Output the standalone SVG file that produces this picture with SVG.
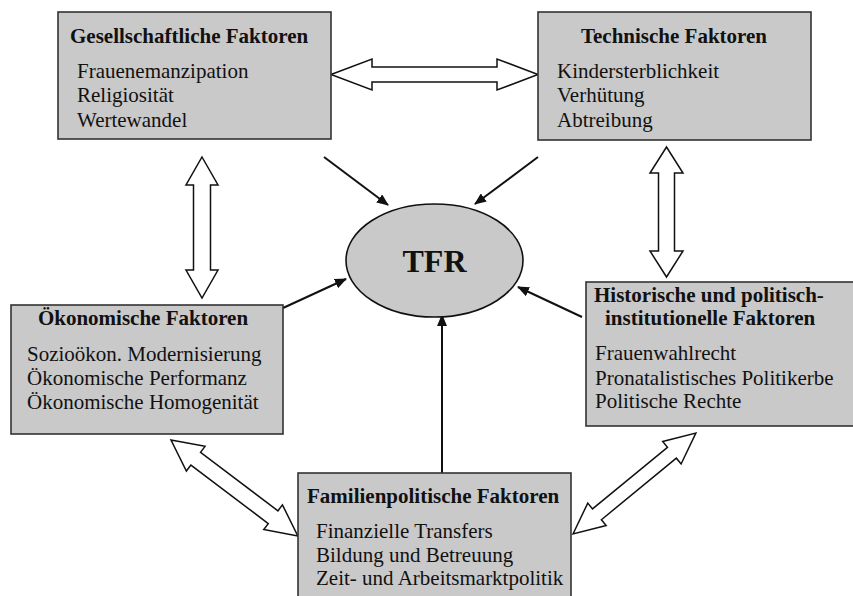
<svg xmlns="http://www.w3.org/2000/svg" width="853" height="596" viewBox="0 0 853 596">
<style>
.box{fill:#c9c9c9;stroke:#333;stroke-width:1.6}
.t{font-family:"Liberation Serif","Times New Roman",serif;font-size:21px;fill:#111}
.b{font-weight:bold}
.dbl{fill:#fff;stroke:#111;stroke-width:1.5;stroke-linejoin:miter}
.ar{stroke:#111;stroke-width:2;fill:none}
</style>
<defs>
<marker id="ah" viewBox="0 0 12 10" refX="11" refY="5" markerWidth="12" markerHeight="10" markerUnits="userSpaceOnUse" orient="auto">
<path d="M0,0 L12,5 L0,10 z" fill="#111"/>
</marker>
</defs>
<rect width="853" height="596" fill="#fff"/>
<g id="connectors">
<polygon class="dbl" transform="translate(331,74.5)" points="0,0 41,-15.5 41,-7.5 166,-7.5 166,-15.5 207,0 166,15.5 166,7.5 41,7.5 41,15.5"/>
<polygon class="dbl" transform="translate(202,157) rotate(90)" points="0,0 28,-16 28,-8.5 113,-8.5 113,-16 141,0 113,16 113,8.5 28,8.5 28,16"/>
<polygon class="dbl" transform="translate(666.5,147) rotate(90)" points="0,0 26,-16.5 26,-8 104,-8 104,-16.5 130,0 104,16.5 104,8 26,8 26,16.5"/>
<polygon class="dbl" transform="translate(171,440) rotate(37.1)" points="0,0 31,-15.5 31,-8 128,-8 128,-15.5 159,0 128,15.5 128,8 31,8 31,15.5"/>
<polygon class="dbl" transform="translate(573,534) rotate(-39.4)" points="0,0 31,-14.5 31,-7 128,-7 128,-14.5 159,0 128,14.5 128,7 31,7 31,14.5"/>
<line class="ar" x1="324" y1="157" x2="388" y2="205" marker-end="url(#ah)"/>
<line class="ar" x1="538" y1="157" x2="475" y2="204" marker-end="url(#ah)"/>
<line class="ar" x1="283" y1="308" x2="346" y2="279" marker-end="url(#ah)"/>
<line class="ar" x1="582" y1="317" x2="518" y2="287" marker-end="url(#ah)"/>
<line class="ar" x1="442" y1="473" x2="442" y2="315" marker-end="url(#ah)"/>
</g>
<g id="tfr">
<ellipse cx="434.5" cy="260.5" rx="88.5" ry="56.5" fill="#c9c9c9" stroke="#111" stroke-width="1.6"/>
<text class="t b" x="434.5" y="272" text-anchor="middle" style="font-size:32px">TFR</text>
</g>
<g id="gesellschaftlich">
<rect class="box" x="58" y="12" width="273" height="127"/>
<text class="t b" x="70" y="43">Gesellschaftliche Faktoren</text>
<text class="t" x="77" y="78">Frauenemanzipation</text>
<text class="t" x="77" y="102">Religiosität</text>
<text class="t" x="77" y="127">Wertewandel</text>
</g>
<g id="technisch">
<rect class="box" x="538" y="12" width="273" height="128"/>
<text class="t b" x="674" y="43" text-anchor="middle">Technische Faktoren</text>
<text class="t" x="557" y="78">Kindersterblichkeit</text>
<text class="t" x="557" y="102">Verhütung</text>
<text class="t" x="557" y="127">Abtreibung</text>
</g>
<g id="oekonomisch">
<rect class="box" x="11" y="305" width="272" height="129"/>
<text class="t b" x="143" y="325" text-anchor="middle">Ökonomische Faktoren</text>
<text class="t" x="27" y="361">Sozioökon. Modernisierung</text>
<text class="t" x="27" y="385">Ökonomische Performanz</text>
<text class="t" x="27" y="409">Ökonomische Homogenität</text>
</g>
<g id="historisch">
<rect class="box" x="586" y="282" width="270" height="144"/>
<text class="t b" x="594" y="302">Historische und politisch-</text>
<text class="t b" x="605" y="325">institutionelle Faktoren</text>
<text class="t" x="595" y="360">Frauenwahlrecht</text>
<text class="t" x="595" y="385">Pronatalistisches Politikerbe</text>
<text class="t" x="595" y="408">Politische Rechte</text>
</g>
<g id="familienpolitisch">
<rect class="box" x="298" y="473" width="273" height="130"/>
<text class="t b" x="307" y="503">Familienpolitische Faktoren</text>
<text class="t" x="316" y="538">Finanzielle Transfers</text>
<text class="t" x="316" y="562">Bildung und Betreuung</text>
<text class="t" x="316" y="585">Zeit- und Arbeitsmarktpolitik</text>
</g>
</svg>
